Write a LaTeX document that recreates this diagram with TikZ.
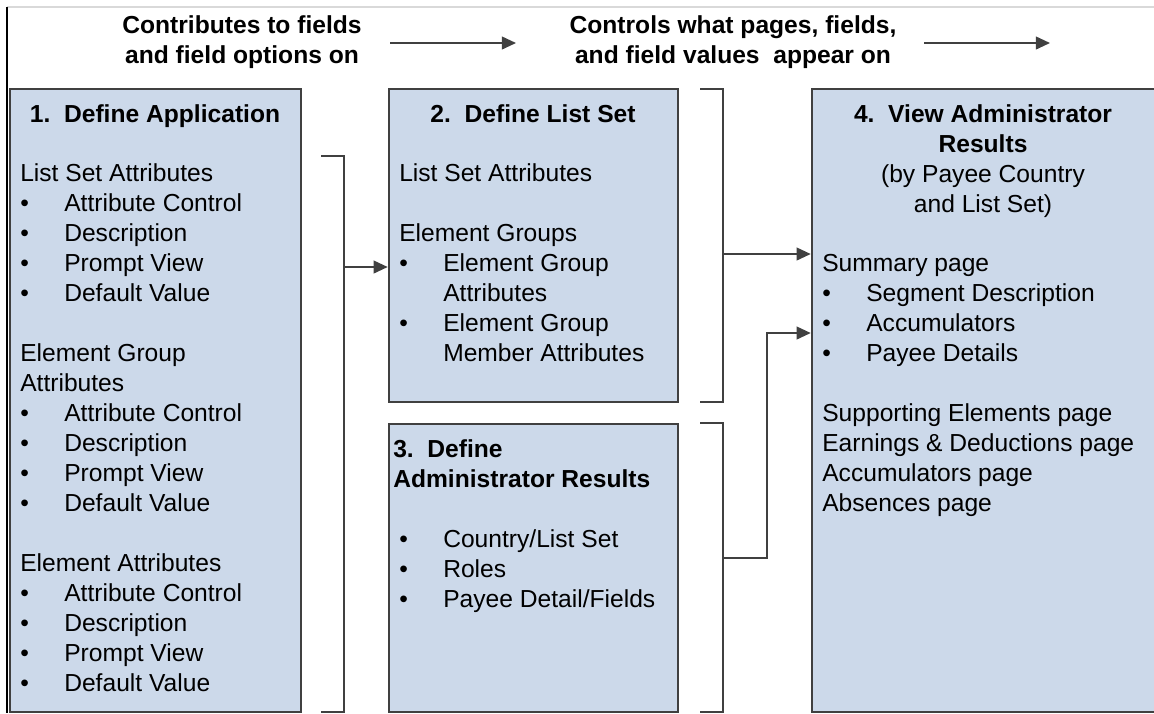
\documentclass[tikz,border=0pt]{standalone}
\usepackage{fontspec}
\setmainfont{Liberation Sans}
\usepackage{array}
\usepackage{xcolor}
\definecolor{boxBlue}{HTML}{CCD9EA}
\definecolor{lineGrey}{HTML}{404040}
\usetikzlibrary{positioning,arrows.meta,fit}

\newcommand{\grp}[1]{\multicolumn{2}{@{}l@{}}{#1}}

\begin{document}
\begin{tikzpicture}[x=0.025cm, y=-0.025cm,
  box/.style={draw=lineGrey, line width=1.8pt, fill=boxBlue, inner sep=0pt},
  ttl/.style={font=\fontsize{17.5pt}{21.34pt}\selectfont\bfseries, inner sep=0pt},
  txt/.style={font=\fontsize{17.5pt}{21.34pt}\selectfont, inner sep=0pt, anchor=base west},
  link/.style={draw=lineGrey, line width=1.4pt},
  >={Triangle[length=10pt,width=9pt]}
]
\useasboundingbox (0,0) rectangle (1154,713);
\clip (0,0) rectangle (1154,713);

%% frame
\draw[black!15, line width=0.8pt] (7,7) -- (1154,7);
\draw[black, line width=1.2pt] (7,7) -- (7,713);

%% header
\node[ttl, anchor=base] (contrib) at (242,33)
  {\begin{tabular}[t]{@{}c@{}}Contributes to fields\\and field options on\end{tabular}};
\node[ttl, anchor=base] (ctrl) at (733,33)
  {\begin{tabular}[t]{@{}c@{}}Controls what pages, fields,\\and field values\ \ appear on\end{tabular}};
\coordinate (h1s) at (390,43); \coordinate (h1e) at (516,43);
\coordinate (h2s) at (924,43); \coordinate (h2e) at (1050,43);
\draw[link, ->] (h1s) -- (h1e);
\draw[link, ->] (h2s) -- (h2e);

%% boxes
\node[box, fit={(10,89) (301,712)}]   (app) {};
\node[box, fit={(389,89) (678,402)}]  (lst) {};
\node[box, fit={(389,424) (678,712)}] (adm) {};
\node[box, fit={(812,89) (1160,712)}] (res) {};

%% 1. Define Application
\node[ttl, anchor=base] (apptitle) at (155,122) {1.\ \ Define Application};
\node[txt] (appitems) at (20,181) {\begin{tabular}[t]{@{}p{31.3pt}@{}l@{}}
  \grp{List Set Attributes}\\
  \textbullet & Attribute Control\\
  \textbullet & Description\\
  \textbullet & Prompt View\\
  \textbullet & Default Value\\
  \\
  \grp{Element Group}\\
  \grp{Attributes}\\
  \textbullet & Attribute Control\\
  \textbullet & Description\\
  \textbullet & Prompt View\\
  \textbullet & Default Value\\
  \\
  \grp{Element Attributes}\\
  \textbullet & Attribute Control\\
  \textbullet & Description\\
  \textbullet & Prompt View\\
  \textbullet & Default Value
\end{tabular}};

%% 2. Define List Set
\node[ttl, anchor=base] (lsttitle) at (533,122) {2.\ \ Define List Set};
\node[txt] (lstitems) at (399,181) {\begin{tabular}[t]{@{}p{31.3pt}@{}l@{}}
  \grp{List Set Attributes}\\
  \\
  \grp{Element Groups}\\
  \textbullet & Element Group\\
              & Attributes\\
  \textbullet & Element Group\\
              & Member Attributes
\end{tabular}};

%% 3. Define Administrator Results
\node[ttl, anchor=base west] (admtitle) at (393,457)
  {\begin{tabular}[t]{@{}l@{}}3.\ \ Define\\Administrator Results\end{tabular}};
\node[txt] (admitems) at (399,547) {\begin{tabular}[t]{@{}p{31.3pt}@{}l@{}}
  \textbullet & Country/List Set\\
  \textbullet & Roles\\
  \textbullet & Payee Detail/Fields
\end{tabular}};

%% 4. View Administrator Results
\node[ttl, anchor=base] (restitle) at (983,122) {\begin{tabular}[t]{@{}c@{}}
  4.\ \ View Administrator\\
  Results\\
  \mdseries (by Payee Country\\
  \mdseries and List Set)
\end{tabular}};
\node[txt] (resitems) at (822,271) {\begin{tabular}[t]{@{}p{31.3pt}@{}l@{}}
  \grp{Summary page}\\
  \textbullet & Segment Description\\
  \textbullet & Accumulators\\
  \textbullet & Payee Details\\
  \\
  \grp{Supporting Elements page}\\
  \grp{Earnings \& Deductions page}\\
  \grp{Accumulators page}\\
  \grp{Absences page}
\end{tabular}};

%% brackets and arrows
\coordinate (b1top) at (321,156); \coordinate (b1bot) at (321,712);
\coordinate (b1mid) at (344,267);
\draw[link] (b1top) -- ++(23,0) |- (b1bot);
\draw[link, ->] (b1mid) -- (b1mid -| lst.west);

\coordinate (b2top) at (700,89); \coordinate (b2bot) at (700,402);
\coordinate (b2mid) at (723,254);
\draw[link] (b2top) -- ++(23,0) |- (b2bot);
\draw[link, ->] (b2mid) -- (b2mid -| res.west);

\coordinate (b3top) at (700,423); \coordinate (b3bot) at (700,712);
\coordinate (b3mid) at (723,558); \coordinate (b3in) at (767,333);
\draw[link] (b3top) -- ++(23,0) |- (b3bot);
\draw[link, ->] (b3mid) -| (b3in) -- (b3in -| res.west);
\end{tikzpicture}
\end{document}
